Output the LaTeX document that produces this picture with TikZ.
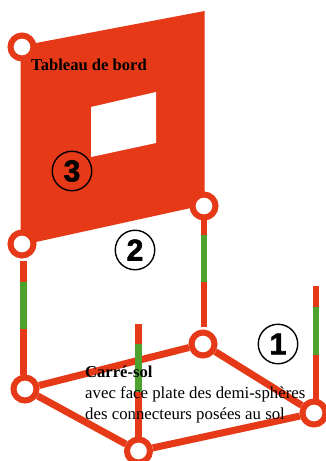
\documentclass[tikz,border=0pt]{standalone}
\usepackage{fontspec}
\setmainfont{Liberation Serif}
\newfontfamily\numfont[BoldFont=Liberation Sans Bold,BoldFeatures={FakeBold=2}]{Liberation Sans}
\definecolor{redo}{HTML}{E63917}
\definecolor{greeno}{HTML}{4EA32E}
\tikzset{
  ring/.style={circle,draw=redo,line width=6pt,fill=white,minimum size=23pt,inner sep=0pt},
  edgeline/.style={draw=redo,line width=7pt},
  post/.style={draw=redo,line width=6.4pt},
  postgreen/.style={draw=greeno,line width=6.4pt},
  badge/.style={circle,draw=black,line width=1.4pt,minimum size=39.5pt,inner sep=0pt,font=\numfont\bfseries\fontsize{30}{30}\selectfont},
  label/.style={inner sep=0pt,anchor=base west,text=black,font=\fontsize{16.8}{18}\selectfont},
  blabel/.style={label,font=\bfseries\fontsize{16.6}{18}\selectfont}
}
\begin{document}
\begin{tikzpicture}[x=1pt,y=-1pt]
\useasboundingbox (0,0) rectangle (326,461);
\clip (0,0) rectangle (326,461);
% panel
\fill[redo] (20.5,47) -- (36,43) -- (204.5,11) -- (204.5,205) -- (36,242) -- (20.5,244) -- cycle;
\fill[white] (91,107) -- (156,92) -- (156,143) -- (91,157) -- cycle;
% rings
\node[ring] (tl) at (22,47) {};
\node[ring] (bl) at (22,244) {};
\node[ring] (br) at (204,206) {};
\node[ring] (fl) at (25,389) {};
\node[ring] (fb) at (203,344) {};
\node[ring] (ff) at (138.5,451) {};
\node[ring] (fr) at (314,413) {};
\draw[edgeline] (fl) -- (fb);
\draw[edgeline] (fb) -- (fr);
\draw[edgeline] (fr) -- (ff);
\draw[edgeline] (ff) -- (fl);
% post ends
\coordinate (p1a) at (23.5,261); \coordinate (p1b) at (23.5,375);
\coordinate (g1a) at (23.5,282); \coordinate (g1b) at (23.5,329);
\coordinate (p2a) at (204,220);  \coordinate (p2b) at (204,327);
\coordinate (g2a) at (204,235);  \coordinate (g2b) at (204,282);
\coordinate (p3a) at (138.5,324); \coordinate (p3b) at (138.5,438);
\coordinate (g3a) at (138.5,344); \coordinate (g3b) at (138.5,392);
\coordinate (p4a) at (316,286);  \coordinate (p4b) at (316,400);
\coordinate (g4a) at (316,307);  \coordinate (g4b) at (316,355);
\draw[post] (p1a) -- (p1b); \draw[postgreen] (g1a) -- (g1b);
\draw[post] (p2a) -- (p2b); \draw[postgreen] (g2a) -- (g2b);
\draw[post] (p3a) -- (p3b); \draw[postgreen] (g3a) -- (g3b);
\draw[post] (p4a) -- (p4b); \draw[postgreen] (g4a) -- (g4b);
% badges
\node[badge] (n3) at (72,171) {3};
\node[badge] (n2) at (135,250) {2};
\node[badge] (n1) at (278,344) {1};
% text
\node[blabel] (t1) at (31,70) {Tableau de bord};
\node[blabel] (t2) at (85,377) {Carré-sol};
\node[label] (t3) at (85,398) {avec face plate des demi-sphères};
\node[label] (t4) at (85,419) {des connecteurs posées au sol};
\end{tikzpicture}
\end{document}
